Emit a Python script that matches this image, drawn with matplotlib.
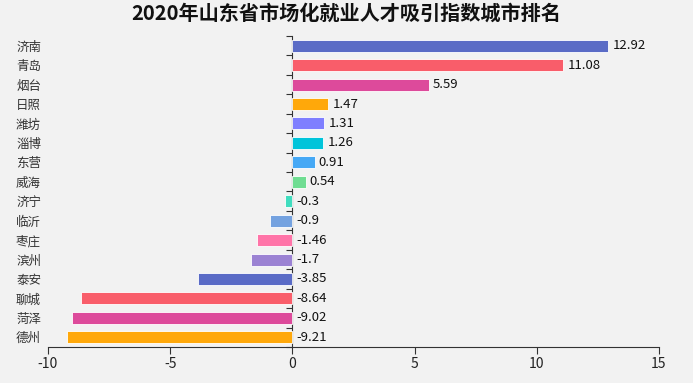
import matplotlib
matplotlib.use("Agg")
import matplotlib.pyplot as plt

plt.rcParams['font.family'] = ['Noto Sans CJK SC', 'DejaVu Sans']

cities = ["济南", "青岛", "烟台", "日照", "潍坊", "淄博", "东营", "威海",
          "济宁", "临沂", "枣庄", "滨州", "泰安", "聊城", "菏泽", "德州"]
values = [12.92, 11.08, 5.59, 1.47, 1.31, 1.26, 0.91, 0.54,
          -0.3, -0.9, -1.46, -1.7, -3.85, -8.64, -9.02, -9.21]
palette = ['#5A6BC6', '#F95D6A', '#DD4A9B', '#FFA80A', '#7F7FFF', '#00C4DA',
           '#45A8F5', '#6FDD92', '#40DDBF', '#74A2E0', '#FF74A8', '#9B82D3']
xticks = [-10, -5, 0, 5, 10, 15]
title = "2020年山东省市场化就业人才吸引指数城市排名"

bg = '#F2F2F2'
fig = plt.figure(figsize=(6.93, 3.83), dpi=100, facecolor=bg)
ax = fig.add_axes([48/693, 1-347/383, (659-48)/693, (347-36)/383], facecolor=bg)

n = len(cities)
ypos = list(range(n))
colors = [palette[i % len(palette)] for i in range(n)]
ax.barh(ypos, values, height=0.62, color=colors, edgecolor='white', linewidth=0.6, zorder=2)

ax.set_xlim(-10, 15)
ax.set_ylim(n - 0.5, -0.5)
ax.set_xticks(xticks)
ax.set_xticklabels([str(t) for t in xticks], fontsize=10, color='#222222')
ax.set_yticks(ypos)
ax.set_yticklabels(cities, fontsize=9, color='#333333')
ax.tick_params(axis='y', length=0, pad=5)
ax.tick_params(axis='x', length=5, width=0.8, color='#333333', pad=2)

for s in ['top', 'right', 'left']:
    ax.spines[s].set_visible(False)
ax.spines['bottom'].set_color('#333333')
ax.spines['bottom'].set_linewidth(0.8)

# zero axis line with boundary ticks
sec = ax.secondary_yaxis((0 - (-10)) / 25)
sec.set_yticks([i - 0.5 for i in range(n + 1)])
sec.set_yticklabels([])
sec.tick_params(axis='y', length=4, width=0.8, color='#333333', direction='out')
sec.spines['left'].set_color('#333333')
sec.spines['left'].set_linewidth(0.8)

for y, v in zip(ypos, values):
    x = v if v > 0 else 0
    ax.annotate(f"{v:g}", (x, y), xytext=(3, 0), textcoords='offset points',
                va='center', ha='left', fontsize=9.5, color='#111111')

fig.text(0.5, 1 - 13/383, title, ha='center', va='center', fontsize=14.5,
         fontweight='bold', color='#111111')

fig.savefig('out.png', dpi=100, facecolor=bg)
